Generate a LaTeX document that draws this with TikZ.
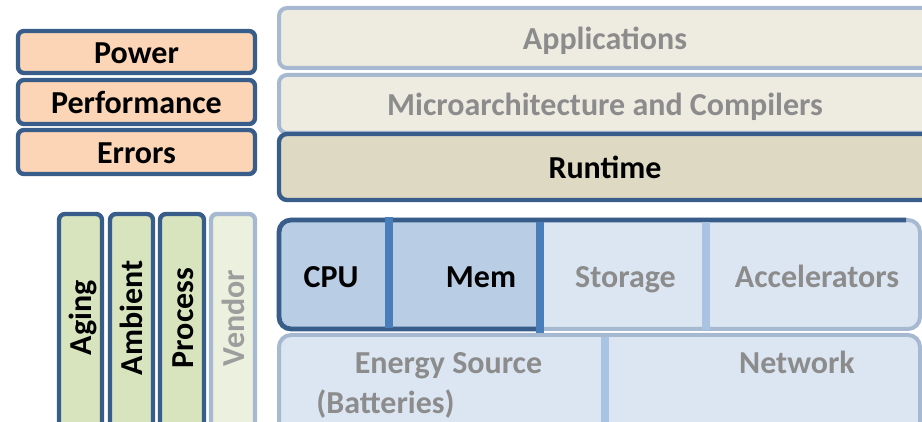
\documentclass[tikz,border=0pt]{standalone}
\usepackage{fontspec}
\setmainfont{Carlito}
\usetikzlibrary{positioning}
\definecolor{darkedge}{HTML}{385D8A}
\definecolor{lightedge}{HTML}{A7B9D1}
\definecolor{tanfill}{HTML}{EEECE1}
\definecolor{runfill}{HTML}{DDD9C3}
\definecolor{peach}{HTML}{FBD5B5}
\definecolor{greenfill}{HTML}{D7E4BD}
\definecolor{palegreen}{HTML}{EBF1DE}
\definecolor{hwdark}{HTML}{B9CDE5}
\definecolor{hwlight}{HTML}{DCE6F2}
\definecolor{divdark}{HTML}{4A7EBB}
\definecolor{divlight}{HTML}{A9C4E2}
\definecolor{greytext}{HTML}{8C8C8C}

\begin{document}
\begin{tikzpicture}[x=0.5pt, y=-0.5pt,
  lbl/.style={font=\fontsize{16}{19}\selectfont\bfseries, inner sep=0pt, text height=13.2pt, text depth=2pt},
  dimlbl/.style={lbl, text=greytext},
  riskbox/.style={lbl, draw=darkedge, fill=peach, line width=2.2pt, rounded corners=3pt, minimum width=118.5pt, minimum height=22pt},
  layerbox/.style={dimlbl, draw=lightedge, fill=tanfill, line width=2pt, rounded corners=4pt, minimum width=326pt},
  divider/.style={line width=3.6pt}
]
  \useasboundingbox (0,0) rectangle (922,422);
  \clip (0,0) rectangle (922,422);

  % Metrics
  \node[riskbox, minimum height=21pt] (power) at (136.5,52) {Power};
  \node[riskbox] (perf) at (136.5,102) {Performance};
  \node[riskbox] (errors) at (136.5,152) {Errors};

  % Software layers
  \node[layerbox, minimum height=30pt] (apps) at (605,38) {Applications};
  \node[layerbox, minimum height=29pt] (uarch) at (605,104) {Microarchitecture and Compilers};
  \node[layerbox, draw=darkedge, fill=runfill, text=black, line width=2.2pt, minimum height=33pt] (runtime) at (605,167) {Runtime};

  % Variability sources
  \foreach \xl/\xr/\fc/\dc in {59/102/greenfill/darkedge, 110/153/greenfill/darkedge,
      160/204/greenfill/darkedge, 211/255/palegreen/lightedge}
    \draw[draw=\dc, fill=\fc, line width=2.2pt, rounded corners=3pt] (\xl,214) rectangle (\xr,440);
  \node[lbl, rotate=90] (aging) at (80.5,318) {Aging};
  \node[lbl, rotate=90] (ambient) at (131.5,318) {Ambient};
  \node[lbl, rotate=90] (process) at (182,318) {Process};
  \node[dimlbl, rotate=90, text=greytext!85] (vendor) at (233,318) {Vendor};

  % Energy and network
  \draw[draw=lightedge, fill=hwlight, line width=2pt, rounded corners=6pt] (279,335) rectangle (920,450);
  \draw[divlight, divider] (605,337) -- (605,430);
  \node[dimlbl] (energy) at (448.5,362) {Energy Source};
  \node[dimlbl, anchor=west] (batt) at (316,402) {(Batteries)};
  \node[dimlbl] (net) at (797,362) {Network};

  % Hardware
  \draw[draw=lightedge, fill=hwlight, line width=2pt, rounded corners=6pt] (279,220) rectangle (920,329);
  \fill[hwdark] (540,220) [rounded corners=6pt] -- (279,220) -- (279,329) [sharp corners] -- (540,329) -- cycle;
  \draw[darkedge, line width=2.4pt] (540,329) [rounded corners=6pt] -- (279,329) -- (279,220) -- (906,220);
  \draw[divdark, divider] (389,217) -- (389,328);
  \draw[divdark, divider] (540,222) -- (540,333);
  \draw[divlight, divider] (706,222) -- (706,330);
  \node[lbl] (cpu) at (331,276) {CPU};
  \node[lbl] (mem) at (481,276) {Mem};
  \node[dimlbl] (storage) at (625.5,276) {Storage};
  \node[dimlbl] (accel) at (817,276) {Accelerators};
\end{tikzpicture}
\end{document}
